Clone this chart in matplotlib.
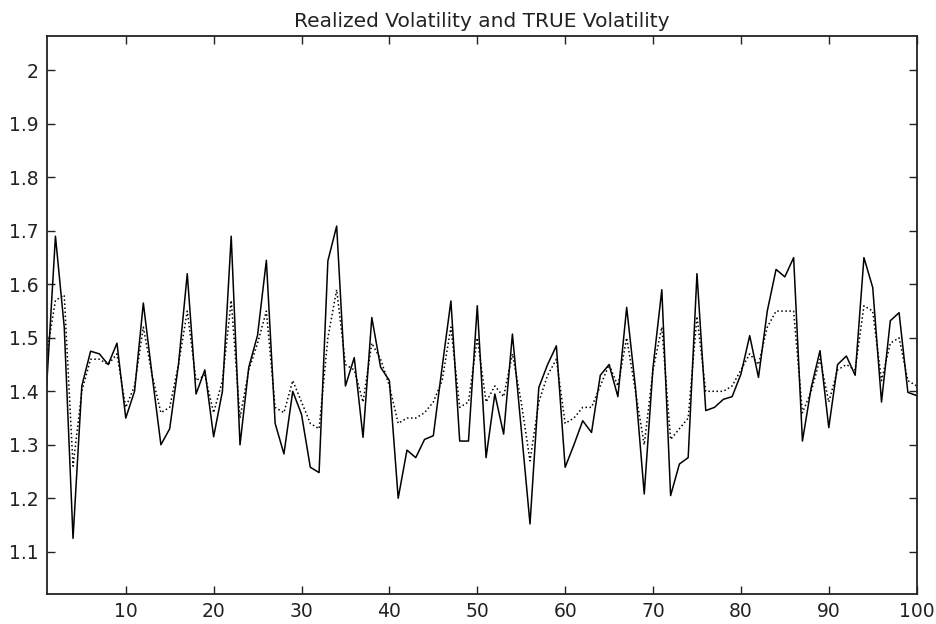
import numpy as np
import matplotlib.pyplot as plt

# realized volatility (solid) and true volatility (dotted), t = 1..100
realized = [1.41, 1.69, 1.52, 1.125, 1.41, 1.475, 1.47, 1.45, 1.49, 1.35,
            1.40, 1.565, 1.43, 1.30, 1.33, 1.45, 1.62, 1.395, 1.44, 1.315,
            1.40, 1.69, 1.30, 1.445, 1.505, 1.645, 1.34, 1.283, 1.40, 1.357,
            1.258, 1.248, 1.644, 1.709, 1.41, 1.463, 1.314, 1.538, 1.445, 1.42,
            1.20, 1.29, 1.276, 1.31, 1.317, 1.445, 1.569, 1.307, 1.307, 1.56,
            1.276, 1.395, 1.32, 1.507, 1.33, 1.152, 1.407, 1.45, 1.485, 1.258,
            1.30, 1.345, 1.323, 1.43, 1.45, 1.39, 1.557, 1.407, 1.208, 1.445,
            1.59, 1.205, 1.264, 1.276, 1.62, 1.364, 1.37, 1.385, 1.39, 1.432,
            1.504, 1.426, 1.55, 1.628, 1.614, 1.65, 1.307, 1.407, 1.476, 1.332,
            1.45, 1.466, 1.43, 1.65, 1.594, 1.38, 1.532, 1.547, 1.398, 1.392]

true_vol = [1.47, 1.57, 1.58, 1.26, 1.40, 1.46, 1.46, 1.45, 1.47, 1.37,
            1.41, 1.52, 1.43, 1.36, 1.37, 1.45, 1.55, 1.42, 1.43, 1.36,
            1.42, 1.57, 1.35, 1.44, 1.49, 1.55, 1.37, 1.36, 1.42, 1.38,
            1.34, 1.33, 1.50, 1.59, 1.45, 1.44, 1.38, 1.49, 1.46, 1.41,
            1.34, 1.35, 1.35, 1.36, 1.38, 1.42, 1.52, 1.37, 1.38, 1.50,
            1.38, 1.41, 1.39, 1.47, 1.38, 1.27, 1.38, 1.43, 1.46, 1.34,
            1.35, 1.37, 1.37, 1.41, 1.45, 1.41, 1.50, 1.40, 1.30, 1.44,
            1.52, 1.31, 1.33, 1.35, 1.54, 1.40, 1.40, 1.40, 1.41, 1.44,
            1.47, 1.45, 1.52, 1.55, 1.55, 1.55, 1.36, 1.40, 1.46, 1.38,
            1.44, 1.45, 1.44, 1.56, 1.55, 1.42, 1.49, 1.50, 1.42, 1.41]

t = np.arange(1, len(realized) + 1)
xticks = [10, 20, 30, 40, 50, 60, 70, 80, 90, 100]
yticks = [1.1, 1.2, 1.3, 1.4, 1.5, 1.6, 1.7, 1.8, 1.9, 2.0]
yticklabels = ["1.1", "1.2", "1.3", "1.4", "1.5", "1.6", "1.7", "1.8", "1.9", "2"]

plt.rcParams['font.family'] = ['DejaVu Sans']

fig = plt.figure(figsize=(9.37, 6.24), dpi=100)
ax = fig.add_axes([0.0498, 0.0481, 0.9285, 0.8947])

ax.plot(t, realized, "k-", lw=1.1)
ax.plot(t, true_vol, "k:", lw=1.1)

ax.set_xlim(1, 100)
ax.set_ylim(1.021, 2.065)
ax.set_xticks(xticks)
ax.set_yticks(yticks)
ax.set_yticklabels(yticklabels)
ax.tick_params(direction="in", length=6, width=1, top=True, right=True,
               labelsize=13.5, pad=6, colors="#222222")
for s in ax.spines.values():
    s.set_linewidth(1.3)
    s.set_color("#222222")

ax.set_title("Realized Volatility and TRUE Volatility", fontsize=14.5, pad=6,
             color="#222222")

fig.savefig("out.png", dpi=100)
